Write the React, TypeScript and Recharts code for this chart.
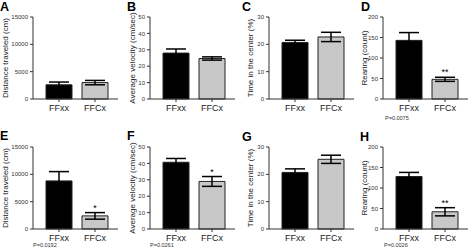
import React from 'react';
import { BarChart, Bar, XAxis, YAxis, ErrorBar, Cell, ReferenceDot } from 'recharts';

const categories = ['FFxx', 'FFCx'];

// Row 1 (A-D)
const distMeans1 = [2600, 3000];
const distErr1 = [500, 400];
const velMeans1 = [28, 24.7];
const velErr1 = [2.5, 1];
const centerMeans1 = [20.7, 22.7];
const centerErr1 = [0.8, 1.7];
const rearMeans1 = [143, 48];
const rearErr1 = [19, 5];

// Row 2 (E-H)
const distMeans2 = [8800, 2400];
const distErr2 = [1700, 600];
const velMeans2 = [40.7, 29];
const velErr2 = [2.3, 3];
const centerMeans2 = [20.7, 25.5];
const centerErr2 = [1.3, 1.5];
const rearMeans2 = [128, 42];
const rearErr2 = [10, 10];

const distTicks = [0, 5000, 10000, 15000];
const velTicks = [0, 10, 20, 30, 40, 50];
const centerTicks = [0, 10, 20, 30];
const rearTicks = [0, 50, 100, 150, 200];

const FONT = '"Liberation Sans", Arial, Helvetica, sans-serif';
const AXIS = '#333';
const PLOT_W = 85;
const PLOT_H = 82;
const YW = 28;
const MT = 6;
const XH = 24;

type PanelProps = {
  axisX: number;
  plotTop: number;
  means: number[];
  errs: number[];
  ticks: number[];
  sig?: string;
};

function Panel({ axisX, plotTop, means, errs, ticks, sig }: PanelProps) {
  const data = categories.map((c, i) => ({ name: c, mean: means[i], err: errs[i] }));
  const max = ticks[ticks.length - 1];
  return (
    <div style={{ position: 'absolute', left: axisX - YW, top: plotTop - MT }}>
      <BarChart
        width={YW + PLOT_W + 2}
        height={MT + PLOT_H + XH}
        data={data}
        margin={{ top: MT, right: 2, bottom: 0, left: 0 }}
        barSize={26}
      >
        <XAxis
          dataKey="name"
          height={XH}
          padding={{ left: 8, right: 5 }}
          tickSize={3}
          tickMargin={3}
          stroke={AXIS}
          interval={0}
          tick={{ fontSize: 9, fill: '#222', fontFamily: FONT }}
        />
        <YAxis
          type="number"
          width={YW}
          domain={[0, max]}
          ticks={ticks}
          interval={0}
          tickSize={3}
          tickMargin={2}
          stroke={AXIS}
          tick={{ fontSize: 6, fill: '#333', fontFamily: FONT }}
        />
        <Bar dataKey="mean" isAnimationActive={false} stroke="#222" strokeWidth={1}>
          {data.map((d, i) => (
            <Cell key={d.name} fill={i === 0 ? '#000000' : '#c8c8c8'} />
          ))}
          <ErrorBar dataKey="err" width={10} stroke="#000" strokeWidth={1.5} direction="y" />
        </Bar>
        {sig ? (
          <ReferenceDot
            x={categories[1]}
            y={means[1] + errs[1]}
            r={1}
            fill="none"
            stroke="none"
            ifOverflow="visible"
            label={{ value: sig, position: 'top', fontSize: 9, fill: '#000', fontFamily: FONT, offset: 1 }}
          />
        ) : null}
      </BarChart>
    </div>
  );
}

const letters = [
  { t: 'A', x: 0, y: 11 },
  { t: 'B', x: 127, y: 11 },
  { t: 'C', x: 242, y: 11 },
  { t: 'D', x: 361, y: 11 },
  { t: 'E', x: 0, y: 140 },
  { t: 'F', x: 127, y: 140 },
  { t: 'G', x: 242, y: 141 },
  { t: 'H', x: 360, y: 141 },
];

const yTitles = [
  { t: 'Distance traveled (cm)', x: 5, y: 58 },
  { t: 'Average velocity (cm/sec)', x: 132, y: 58 },
  { t: 'Time in the center (%)', x: 250, y: 58 },
  { t: 'Rearing (count)', x: 364, y: 58 },
  { t: 'Distance traveled (cm)', x: 5, y: 188 },
  { t: 'Average velocity (cm/sec)', x: 132, y: 188 },
  { t: 'Time in the center (%)', x: 250, y: 188 },
  { t: 'Rearing (count)', x: 364, y: 188 },
];

const pValues = [
  { t: 'P=0.0075', x: 385, y: 118 },
  { t: 'P=0.0192', x: 33, y: 245 },
  { t: 'P=0.0261', x: 150, y: 245 },
  { t: 'P=0.0026', x: 384, y: 245 },
];

export default function App() {
  return (
    <div
      style={{
        position: 'absolute',
        left: 0,
        top: 0,
        width: 474,
        height: 251,
        background: '#fff',
        overflow: 'hidden',
      }}
    >
      <Panel axisX={33} plotTop={17} means={distMeans1} errs={distErr1} ticks={distTicks} />
      <Panel axisX={150} plotTop={17} means={velMeans1} errs={velErr1} ticks={velTicks} />
      <Panel axisX={269} plotTop={17} means={centerMeans1} errs={centerErr1} ticks={centerTicks} />
      <Panel axisX={383} plotTop={17} means={rearMeans1} errs={rearErr1} ticks={rearTicks} sig="**" />
      <Panel axisX={33} plotTop={147} means={distMeans2} errs={distErr2} ticks={distTicks} sig="*" />
      <Panel axisX={150} plotTop={147} means={velMeans2} errs={velErr2} ticks={velTicks} sig="*" />
      <Panel axisX={269} plotTop={147} means={centerMeans2} errs={centerErr2} ticks={centerTicks} />
      <Panel axisX={383} plotTop={147} means={rearMeans2} errs={rearErr2} ticks={rearTicks} sig="**" />
      <svg
        width={474}
        height={251}
        style={{ position: 'absolute', left: 0, top: 0, pointerEvents: 'none' }}
      >
        {letters.map((l) => (
          <text key={l.t} x={l.x} y={l.y} fontSize={12.5} fontWeight="bold" fontFamily={FONT} fill="#000">
            {l.t}
          </text>
        ))}
        {yTitles.map((l, i) => (
          <text
            key={i}
            x={0}
            y={0}
            transform={`translate(${l.x},${l.y}) rotate(-90)`}
            textAnchor="middle"
            dominantBaseline="central"
            fontSize={8}
            fontFamily={FONT}
            fill="#222"
          >
            {l.t}
          </text>
        ))}
        {pValues.map((l) => (
          <text key={l.t} x={l.x} y={l.y} dominantBaseline="central" fontSize={5.5} fontFamily={FONT} fill="#333">
            {l.t}
          </text>
        ))}
      </svg>
    </div>
  );
}
